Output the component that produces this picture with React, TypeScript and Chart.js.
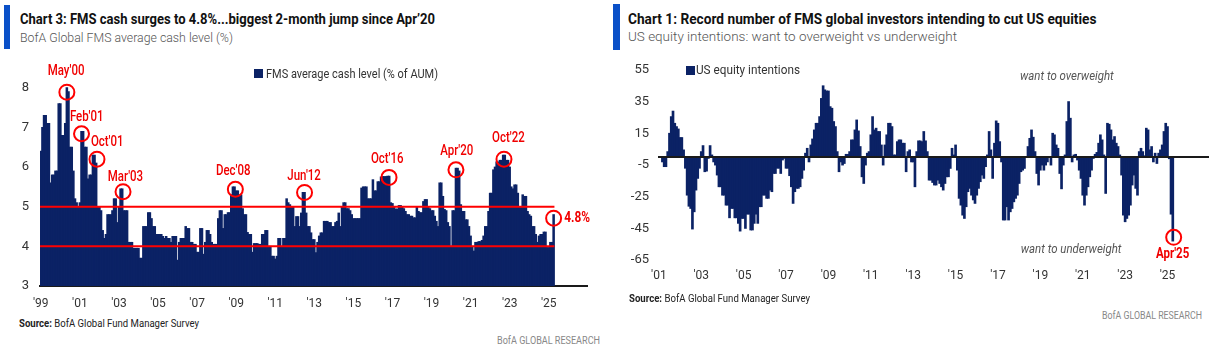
import React, { useEffect, useLayoutEffect, useRef } from "react";
import { Chart, registerables } from "chart.js";

Chart.register(...registerables);

// ---------------- DATA ----------------
// Left chart: BofA Global FMS average cash level (%), monthly from Jan 1999 to Apr 2025
const cashLevel: number[] = [
  // 1999
  6.4, 7.0, 7.3, 7.3, 7.1, 7.1, 5.6, 5.8, 5.8, 5.9, 5.9, 7.6,
  // 2000
  7.6, 6.8, 6.8, 7.1, 8.0, 7.9, 6.5, 6.5, 5.9, 5.2, 5.1, 5.0,
  // 2001
  5.1, 6.9, 6.9, 6.5, 6.5, 5.7, 5.8, 5.8, 6.3, 6.3, 6.1, 5.0,
  // 2002
  5.0, 4.9, 4.4, 4.2, 4.3, 4.8, 4.8, 4.8, 4.9, 5.2, 5.2, 4.6,
  // 2003
  5.0, 5.45, 5.45, 4.9, 4.9, 4.9, 4.1, 4.1, 4.1, 3.95, 3.95, 3.95,
  // 2004
  3.95, 3.7, 3.7, 4.5, 4.5, 4.5, 4.85, 4.85, 4.7, 4.5, 4.5, 4.3,
  // 2005
  4.3, 4.3, 4.3, 4.25, 4.2, 4.25, 4.2, 4.2, 4.1, 4.25, 4.25, 4.25,
  // 2006
  3.65, 4.1, 4.2, 4.2, 4.2, 4.5, 4.45, 4.45, 4.1, 4.1, 4.05, 4.05,
  // 2007
  3.85, 3.85, 4.45, 4.45, 3.8, 4.1, 4.4, 4.4, 4.3, 4.1, 4.05, 4.05,
  // 2008
  4.05, 4.7, 4.9, 4.9, 4.45, 4.8, 4.8, 4.85, 4.85, 5.3, 5.5, 5.5,
  // 2009
  5.4, 5.4, 5.3, 5.3, 4.95, 4.8, 4.8, 4.35, 4.3, 4.3, 3.85, 4.07,
  // 2010
  4.07, 4.07, 4.05, 4.05, 4.3, 4.3, 4.4, 4.4, 4.0, 4.0, 3.75, 3.75,
  // 2011
  3.68, 3.75, 4.2, 4.2, 4.0, 4.2, 4.2, 5.2, 5.1, 5.05, 5.0, 5.0,
  // 2012
  4.5, 4.75, 4.75, 4.5, 4.84, 5.36, 5.36, 4.84, 4.5, 4.5, 4.34, 4.17,
  // 2013
  4.17, 3.84, 4.1, 4.26, 4.34, 4.34, 4.63, 4.63, 4.63, 4.6, 4.6, 4.5,
  // 2014
  4.5, 4.6, 4.63, 4.84, 4.5, 5.0, 5.1, 5.1, 4.95, 4.95, 4.9, 4.8,
  // 2015
  4.7, 4.7, 4.7, 4.7, 4.7, 5.47, 5.5, 5.5, 5.5, 5.2, 5.2, 5.2,
  // 2016
  5.68, 5.4, 5.4, 5.63, 5.63, 5.75, 5.76, 5.76, 5.76, 5.77, 5.77, 5.1,
  // 2017
  5.08, 5.0, 4.94, 4.94, 5.03, 5.03, 5.0, 4.95, 4.88, 4.8, 4.8, 4.76,
  // 2018
  4.76, 4.72, 4.72, 5.0, 4.88, 4.85, 4.85, 5.13, 5.18, 5.18, 5.0, 4.95,
  // 2019
  4.9, 4.9, 4.76, 4.63, 4.5, 5.6, 5.6, 5.26, 4.93, 4.9, 4.6, 4.5,
  // 2020
  4.0, 4.9, 4.9, 5.97, 5.97, 5.9, 5.05, 4.88, 4.88, 4.67, 4.67, 4.5,
  // 2021
  4.26, 4.0, 3.88, 4.1, 4.1, 4.12, 4.12, 4.15, 4.26, 4.5, 4.5, 4.88,
  // 2022
  5.34, 5.34, 5.93, 6.0, 6.13, 6.13, 6.17, 6.17, 6.3, 6.3, 6.17, 6.17,
  // 2023
  6.0, 5.5, 5.45, 5.55, 5.55, 5.34, 5.0, 5.0, 5.3, 5.26, 5.26, 4.88,
  // 2024
  4.8, 4.76, 4.5, 4.5, 4.3, 4.1, 4.26, 4.3, 4.3, 4.36, 4.36, 3.97,
  // 2025
  3.97, 4.1, 4.1, 4.8,
];
const cashTicks: number[] = [3, 4, 5, 6, 7, 8];
const cashGuides: number[] = [4, 5];
const cashCallouts = [
  { text: "May'00", ringAt: 16, ringValue: 7.89, textAt: 15.5, textValue: 8.42 },
  { text: "Feb'01", ringAt: 25, ringValue: 6.84, textAt: 28.2, textValue: 7.26 },
  { text: "Oct'01", ringAt: 34.5, ringValue: 6.2, textAt: 40.8, textValue: 6.63 },
  { text: "Mar'03", ringAt: 50.5, ringValue: 5.38, textAt: 52, textValue: 5.74 },
  { text: "Dec'08", ringAt: 119.5, ringValue: 5.44, textAt: 118.2, textValue: 5.9 },
  { text: "Jun'12", ringAt: 162, ringValue: 5.36, textAt: 161.7, textValue: 5.76 },
  { text: "Oct'16", ringAt: 213.9, ringValue: 5.74, textAt: 212.8, textValue: 6.2 },
  { text: "Apr'20", ringAt: 255, ringValue: 5.93, textAt: 255.5, textValue: 6.39 },
  { text: "Oct'22", ringAt: 284.5, ringValue: 6.2, textAt: 287.2, textValue: 6.71 },
];
const cashLatest = { text: "4.8%", ringAt: 315, ringValue: 4.71, textAt: 321.5, textValue: 4.71 };

// Right chart: US equity intentions (net % want to overweight), monthly from Jan 2001 to Apr 2025
const usIntentions: (number | null)[] = [
  // 2001
  null, null, -3, -6, -6, 3.4, 15, 25.5, 29, 21.3, 19.2, 17.7,
  // 2002
  12.3, 12.3, 4.5, -7, -24, -31, -32.4, -45.4, -34.5, -20.8, -13.4, -7,
  // 2003
  3.4, 7.2, -9.2, -8.8, -0.8, 7.2, 1.3, -3, -5, -11.3, -18.7, -18.7,
  // 2004
  -24, -24, -30.3, -30.3, -38.3, -32.4, -32.4, -38.3, -38.3, -41.8, -46.7, -38.7,
  // 2005
  -38.7, -45, -36, -36, -46, -46, -41.8, -36, -41.8, -31.3, -31.3, -24,
  // 2006
  -24, -26, -26, -20.8, -21.8, -10.3, -10.3, -7, -7, -10.3, -1.8, -0.8,
  // 2007
  -7, -7, -11.7, -18.7, -29.2, -21.8, -19.7, -19.7, -18.7, -13.4, -8.2, 2.4,
  // 2008
  5.5, -3, 7.6, 11.4, 17.1, 21.3, 21.3, 25.5, 37, 45, 42.4, 41.7,
  // 2009
  41.7, 31.8, 30.8, 22.4, 19.2, 3.4, -9.2, -3, -5, -4, 1.7, 1.7,
  // 2010
  3.4, 10.8, 10.8, 17.1, 23.4, 16.5, 6.6, -12.4, -16.6, -5, 2.4, 3.4,
  // 2011
  14, 25.5, 17.1, 18.2, 16.1, 16.1, 7.6, -5, 7.6, 14, 21.3, 21.3,
  // 2012
  19.2, 1.3, 1.3, 9.7, 10.8, 10.8, 8.7, 8.7, -9.2, 3.4, 4.5, -3,
  // 2013
  -3, -18.7, 3.4, 10.2, 10.2, 9.7, 16.1, 10.2, 3.4, -14.5, -14.5, -16,
  // 2014
  -17.6, -17.6, -14.5, -16.6, -18.7, -20.8, -16.6, -12.4, -12.4, -7.1, 5.5, 1.3,
  // 2015
  7.6, -8.2, -26, -30.3, -36.6, -38.7, -31.3, -21.8, -19.7, -24, -27, -29.2,
  // 2016
  -24, -19.7, -15.5, -11.3, -13.4, -6, 1.3, 16.1, 4.5, -13.4, 8.7, 22.8,
  // 2017
  21.3, 9.7, -3, -39.7, -39.7, -31.3, -39.7, -34.5, -32.4, -28.2, -26, -24,
  // 2018
  -16.6, -9.2, -8.2, -7.1, 0.3, 6.6, 11.8, 17.1, 12.5, 3.4, -10.3, -17.6,
  // 2019
  -8.2, -5, -8.2, -5, -3, 0.3, -5, 15, 14, 7.6, 5.5, -10.3,
  // 2020
  -20, -5, 1.3, 22.4, 35, 24.5, -3, 1.3, 1.7, -1.8, -8.2, -13.4,
  // 2021
  -24, -30.3, -24, -18.7, -12.4, -8.2, -0.8, 1.7, 2.9, 8.7, 14, 10.8,
  // 2022
  1.3, -22.9, 21.3, 20.7, 17.1, 10.8, 12.9, 8.7, 6.6, 1.3, -11.3, -36.6,
  // 2023
  -40.8, -38.7, -36.6, -30.3, -17.6, -11.3, -19.7, -24, 3.4, 5.5, 3.4, 0.8,
  // 2024
  18.2, 17.1, 4.5, 6.6, -3, 2.4, -4, 2.4, 4.5, 7.6, 16.1, 21.3,
  // 2025
  19.2, -1, -36, -53,
];
const usTicks: number[] = [55, 35, 15, -5, -25, -45, -65];
const usCallout = { text: "Apr'25", ringAt: 291.5, ringValue: -50.7, textAt: 290.9, textValue: -61.8 };
const usNotes = [
  { text: "want to overweight", at: 231, value: 51 },
  { text: "want to underweight", at: 233.4, value: -58.7 },
];

// ---------------- STYLE ----------------
const NAVY = "#0b2265";
const RED = "#ff0000";
const BLUE = "#0a50c8";
const FONT = "Roboto, 'Liberation Sans', Arial, sans-serif";

function monthLabels(startYear: number, endYear: number): string[] {
  const out: string[] = [];
  for (let y = startYear; y <= endYear; y++)
    for (let m = 1; m <= 12; m++) out.push(`${y}-${String(m).padStart(2, "0")}`);
  return out;
}
const cashMonths = monthLabels(1999, 2026);
const usMonths = monthLabels(2001, 2026);
const yearTick = (lab: string): string => {
  const [y, m] = lab.split("-").map(Number);
  return m === 1 && y % 2 === 1 ? "'" + String(y).slice(2) : "";
};

function drawText(
  ctx: CanvasRenderingContext2D,
  text: string,
  x: number,
  y: number,
  font: string,
  color: string,
  align: CanvasTextAlign,
  squeeze: number
) {
  ctx.save();
  ctx.font = font;
  ctx.fillStyle = color;
  ctx.textAlign = align;
  ctx.textBaseline = "middle";
  ctx.translate(x, y);
  ctx.scale(squeeze, 1);
  ctx.fillText(text, 0, 0);
  ctx.restore();
}

function ring(ctx: CanvasRenderingContext2D, x: number, y: number) {
  ctx.save();
  ctx.beginPath();
  ctx.arc(x, y, 7.5, 0, Math.PI * 2);
  ctx.strokeStyle = RED;
  ctx.lineWidth = 2;
  ctx.stroke();
  ctx.restore();
}

const cashPlugin = {
  id: "cashAnno",
  afterDatasetsDraw(chart: any) {
    const { ctx, scales } = chart;
    const xs = scales.x;
    const ys = scales.y;
    const half = (xs.getPixelForValue(1) - xs.getPixelForValue(0)) / 2;
    const x0 = xs.getPixelForValue(0) - half;
    const x1 = xs.getPixelForValue(cashLevel.length - 1) + half;
    ctx.save();
    ctx.strokeStyle = RED;
    ctx.lineWidth = 2;
    cashGuides.forEach((v) => {
      const y = ys.getPixelForValue(v);
      ctx.beginPath();
      ctx.moveTo(x0, y);
      ctx.lineTo(x1, y);
      ctx.stroke();
    });
    ctx.restore();
    cashCallouts.forEach((c) => {
      ring(ctx, xs.getPixelForValue(c.ringAt), ys.getPixelForValue(c.ringValue));
      drawText(ctx, c.text, xs.getPixelForValue(c.textAt), ys.getPixelForValue(c.textValue), `500 14px ${FONT}`, "#f00000", "center", 0.82);
    });
    ring(ctx, xs.getPixelForValue(cashLatest.ringAt), ys.getPixelForValue(cashLatest.ringValue));
    drawText(ctx, cashLatest.text, xs.getPixelForValue(cashLatest.textAt), ys.getPixelForValue(cashLatest.textValue), `bold 14px ${FONT}`, "#f00000", "left", 0.85);
  },
};

const usPlugin = {
  id: "usAnno",
  afterDatasetsDraw(chart: any) {
    const { ctx, scales, chartArea } = chart;
    const xs = scales.x;
    const ys = scales.y;
    const y0 = ys.getPixelForValue(0);
    ctx.save();
    ctx.strokeStyle = "#1a1a1a";
    ctx.lineWidth = 2;
    ctx.beginPath();
    ctx.moveTo(chartArea.left, y0);
    ctx.lineTo(chartArea.right, y0);
    ctx.stroke();
    ctx.restore();
    ring(ctx, xs.getPixelForValue(usCallout.ringAt), ys.getPixelForValue(usCallout.ringValue));
    drawText(ctx, usCallout.text, xs.getPixelForValue(usCallout.textAt), ys.getPixelForValue(usCallout.textValue), `bold 14px ${FONT}`, "#f00000", "center", 0.82);
    usNotes.forEach((n) => {
      drawText(ctx, n.text, xs.getPixelForValue(n.at), ys.getPixelForValue(n.value), `italic 13px ${FONT}`, "#555", "center", 0.88);
    });
  },
};

// ---------------- HTML TEXT ----------------
type FitProps = {
  x: number;
  y: number;
  w: number;
  size: number;
  weight?: number | string;
  color?: string;
  italic?: boolean;
  children: React.ReactNode;
};
function Fit({ x, y, w, size, weight = 400, color = "#222", italic, children }: FitProps) {
  const ref = useRef<HTMLDivElement>(null);
  useLayoutEffect(() => {
    const el = ref.current;
    if (!el) return;
    el.style.transform = "none";
    const natural = el.getBoundingClientRect().width;
    if (natural > 0) el.style.transform = `scaleX(${w / natural})`;
  });
  return (
    <div
      ref={ref}
      style={{
        position: "absolute",
        left: x,
        top: y - size * 0.49,
        fontSize: size,
        lineHeight: 1,
        fontWeight: weight as any,
        fontStyle: italic ? "italic" : "normal",
        color,
        whiteSpace: "nowrap",
        transformOrigin: "0 0",
        fontFamily: FONT,
      }}
    >
      {children}
    </div>
  );
}

function Box({ x, y, w, h, color }: { x: number; y: number; w: number; h: number; color: string }) {
  return <div style={{ position: "absolute", left: x, top: y, width: w, height: h, background: color }} />;
}

const noScalePadding = (s: any) => {
  s.paddingTop = 0;
  s.paddingBottom = 0;
  s.paddingLeft = 0;
  s.paddingRight = 0;
};

export default function App() {
  const leftRef = useRef<HTMLCanvasElement>(null);
  const rightRef = useRef<HTMLCanvasElement>(null);

  useEffect(() => {
    const tickFont = { family: FONT, size: 12 };
    const left = new Chart(leftRef.current as HTMLCanvasElement, {
      type: "bar",
      data: {
        labels: cashMonths,
        datasets: [
          {
            label: "FMS average cash level (% of AUM)",
            data: cashLevel,
            backgroundColor: NAVY,
            borderWidth: 0,
            barPercentage: 1,
            categoryPercentage: 1,
            inflateAmount: 0.45,
          },
        ],
      },
      options: {
        animation: false,
        responsive: false,
        devicePixelRatio: 1,
        events: [],
        layout: { padding: { left: 0, right: 13, top: 9, bottom: 0 } },
        plugins: { legend: { display: false }, tooltip: { enabled: false } },
        scales: {
          x: {
            grid: { display: false, drawTicks: false },
            border: { display: true, color: "#1a1a1a", width: 2 },
            ticks: {
              autoSkip: false,
              maxRotation: 0,
              minRotation: 0,
              padding: 11,
              color: "#333",
              font: tickFont,
              callback: (_v: any, i: number) => yearTick(cashMonths[i]),
            },
            afterFit: (s: any) => {
              s.height = 24;
              noScalePadding(s);
            },
          },
          y: {
            min: 3,
            max: 8.6,
            grid: { display: false, drawTicks: false },
            border: { display: false },
            afterBuildTicks: (s: any) => {
              s.ticks = cashTicks.map((v) => ({ value: v }));
            },
            ticks: { padding: 11, color: "#333", font: { family: FONT, size: 13 } },
            afterFit: (s: any) => {
              s.width = 40;
              noScalePadding(s);
            },
          },
        },
      } as any,
      plugins: [cashPlugin],
    });

    const right = new Chart(rightRef.current as HTMLCanvasElement, {
      type: "bar",
      data: {
        labels: usMonths,
        datasets: [
          {
            label: "US equity intentions",
            data: usIntentions,
            backgroundColor: NAVY,
            borderWidth: 0,
            barPercentage: 1,
            categoryPercentage: 1,
            inflateAmount: 0.45,
          },
        ],
      },
      options: {
        animation: false,
        responsive: false,
        devicePixelRatio: 1,
        events: [],
        layout: { padding: { left: 0, right: 6, top: 15, bottom: 0 } },
        plugins: { legend: { display: false }, tooltip: { enabled: false } },
        scales: {
          x: {
            grid: { display: false, drawTicks: false },
            border: { display: false },
            ticks: {
              autoSkip: false,
              maxRotation: 0,
              minRotation: 0,
              padding: 9,
              color: "#333",
              font: tickFont,
              callback: (_v: any, i: number) => yearTick(usMonths[i]),
            },
            afterFit: (s: any) => {
              s.height = 35;
              noScalePadding(s);
            },
          },
          y: {
            min: -65,
            max: 55,
            grid: { display: false, drawTicks: false },
            border: { display: false },
            afterBuildTicks: (s: any) => {
              s.ticks = usTicks.map((v) => ({ value: v }));
            },
            ticks: { padding: 9, color: "#333", font: { family: FONT, size: 13 } },
            afterFit: (s: any) => {
              s.width = 58;
              noScalePadding(s);
            },
          },
        },
      } as any,
      plugins: [usPlugin],
    });

    return () => {
      left.destroy();
      right.destroy();
    };
  }, []);

  return (
    <div
      style={{
        position: "absolute",
        left: 0,
        top: 0,
        width: 1215,
        height: 351,
        background: "#fff",
        overflow: "hidden",
        fontFamily: FONT,
      }}
    >
      {/* Left panel */}
      <Box x={4} y={5} w={6} h={44} color={BLUE} />
      <Fit x={20} y={19.8} w={415} size={15} weight={700} color="#111">
        Chart 3: FMS cash surges to 4.8%...biggest 2-month jump since Apr’20
      </Fit>
      <Fit x={20} y={36.9} w={213} size={13} weight={300} color="#555">
        BofA Global FMS average cash level (%)
      </Fit>
      <canvas
        ref={leftRef}
        width={600}
        height={255}
        style={{ position: "absolute", left: 0, top: 55, width: 600, height: 255 }}
      />
      <Box x={254} y={69} w={9} h={9} color={NAVY} />
      <Fit x={266} y={73.5} w={172} size={12} color="#333">
        FMS average cash level (% of AUM)
      </Fit>
      <Fit x={19} y={323.7} w={180} size={10} color="#222">
        <b>Source:</b> BofA Global Fund Manager Survey
      </Fit>
      <Fit x={497} y={341} w={103} size={10} color="#888">
        BofA GLOBAL RESEARCH
      </Fit>

      {/* Right panel */}
      <Box x={613} y={4} w={7} h={46} color={BLUE} />
      <Fit x={627.5} y={19} w={468.5} size={15} weight={700} color="#111">
        Chart 1: Record number of FMS global investors intending to cut US equities
      </Fit>
      <Fit x={627.5} y={36.8} w={329} size={13.5} weight={300} color="#555">
        US equity intentions: want to overweight vs underweight
      </Fit>
      <canvas
        ref={rightRef}
        width={615}
        height={240}
        style={{ position: "absolute", left: 600, top: 55, width: 615, height: 240 }}
      />
      <Box x={686} y={65.5} w={9} h={9} color={NAVY} />
      <Fit x={696} y={70} w={104} size={12} color="#333">
        US equity intentions
      </Fit>
      <Fit x={629} y={299.3} w={181} size={10} color="#222">
        <b>Source:</b> BofA Global Fund Manager Survey
      </Fit>
      <Fit x={1102} y={316} w={100} size={10} color="#888">
        BofA GLOBAL RESEARCH
      </Fit>
    </div>
  );
}
